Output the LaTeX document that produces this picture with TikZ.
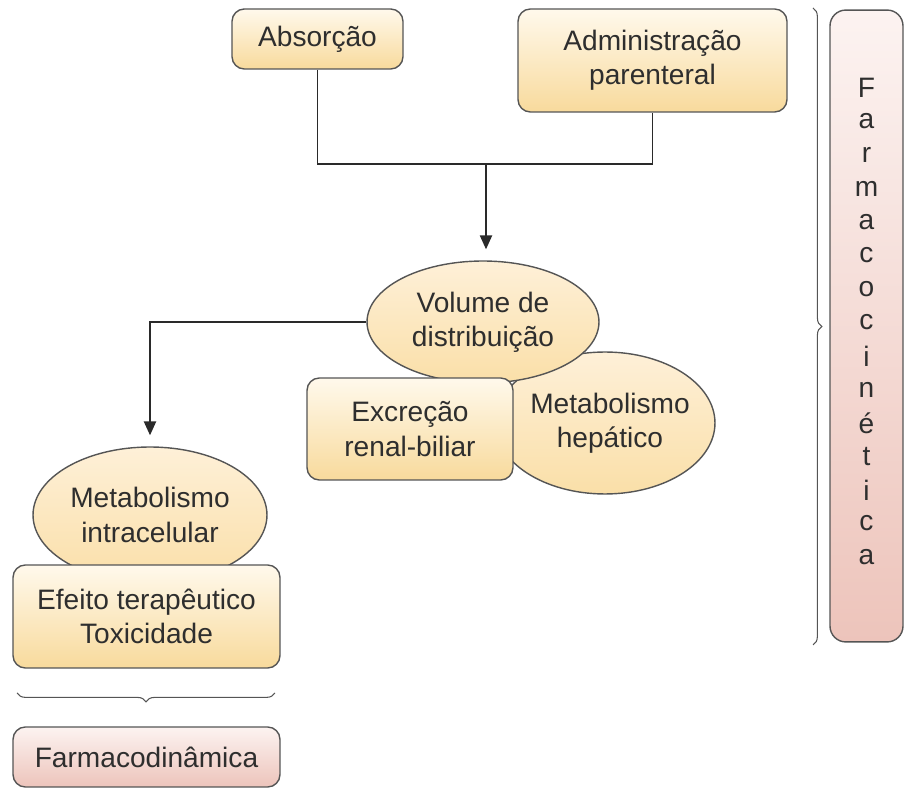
\documentclass[tikz,border=0pt]{standalone}
\usepackage{fontspec}
\setmainfont{Liberation Sans}
\usetikzlibrary{shapes.geometric,arrows.meta,decorations.pathreplacing}

\definecolor{contorno}{HTML}{555555}
\definecolor{linha}{HTML}{2A2A2A}
\definecolor{texto}{HTML}{2E2E2E}
\definecolor{caixaclara}{HTML}{FFF9EC}
\definecolor{caixaescura}{HTML}{F8DA9C}
\definecolor{bolhaclara}{HTML}{FEF0D8}
\definecolor{bolhaescura}{HTML}{FADFA8}
\definecolor{rosaclaro}{HTML}{FCF3F1}
\definecolor{rosaescuro}{HTML}{EDC4BB}

\begin{document}
\begin{tikzpicture}[x=0.02cm, y=-0.02cm,
	every node/.style={font=\fontsize{16}{19.5}\selectfont, text=texto, align=center, inner sep=0pt},
	caixa/.style={draw=contorno, line width=0.8pt, rounded corners=7pt, top color=caixaclara, bottom color=caixaescura},
	rosa/.style={caixa, top color=rosaclaro, bottom color=rosaescuro},
	bolha/.style={ellipse, draw=contorno, line width=0.8pt, top color=bolhaclara, bottom color=bolhaescura},
	seta/.style={draw=linha, line width=0.9pt, -{Triangle[width=7pt,length=8pt]}},
	chave/.style={draw=contorno, line width=0.6pt, decorate, decoration={brace, amplitude=5pt}}]

	\useasboundingbox (0,0) rectangle (907,793);

	\node[caixa, minimum width=3.42cm, minimum height=1.2cm] (absorcao) at (317.5,39) {Absorção};
	\node[caixa, minimum width=5.38cm, minimum height=2.06cm] (parenteral) at (652.5,60.5) {Administração\\parenteral};

	\node[bolha, inner xsep=-0.35cm, minimum width=4.4cm, minimum height=2.84cm] (hepatico) at (605,423) {\hspace*{0.2cm}Metabolismo\\\hspace*{0.2cm}hepático};
	\node[bolha, minimum width=4.64cm, minimum height=2.44cm] (volume) at (483,322) {Volume de\\distribuição};
	\node[caixa, minimum width=4.12cm, minimum height=2.04cm] (excrecao) at (410,429) {Excreção\\renal-biliar};

	\node[bolha, minimum width=4.68cm, minimum height=2.72cm] (intracelular) at (150,515) {Metabolismo\\intracelular};
	\node[caixa, minimum width=5.34cm, minimum height=2.06cm] (efeito) at (146.5,616.5) {Efeito terapêutico\\Toxicidade};
	\node[rosa, minimum width=5.34cm, minimum height=1.2cm] (dinamica) at (146.5,757) {Farmacodinâmica};

	\node[rosa, rounded corners=9pt, minimum width=1.46cm, minimum height=12.64cm] (cinetica) at (866.5,326) {};
	\foreach \letra [count=\i] in {F,a,r,m,a,c,o,c,i,n,é,t,i,c,a}{
		\node (letra\i) at (866.5, 88+33.5*\i-33.5) {\letra};
	}

	% ligações
	\coordinate (juncao) at (486,164);
	\draw[linha, line width=0.9pt] (absorcao.south) |- (juncao) -| (parenteral.south);
	\draw[seta, shorten >=0.22cm] (juncao) -- (juncao |- volume.north);
	\draw[seta, shorten >=0.22cm] (volume.west) -| (intracelular.north);

	% chaves
	\coordinate (cineticaA) at (813,8);
	\coordinate (cineticaB) at (813,645);
	\draw[chave] (cineticaA) -- (cineticaB);
	\coordinate (dinamicaA) at (17,693);
	\coordinate (dinamicaB) at (275,693);
	\draw[chave, decoration={mirror}] (dinamicaA) -- (dinamicaB);

\end{tikzpicture}
\end{document}
